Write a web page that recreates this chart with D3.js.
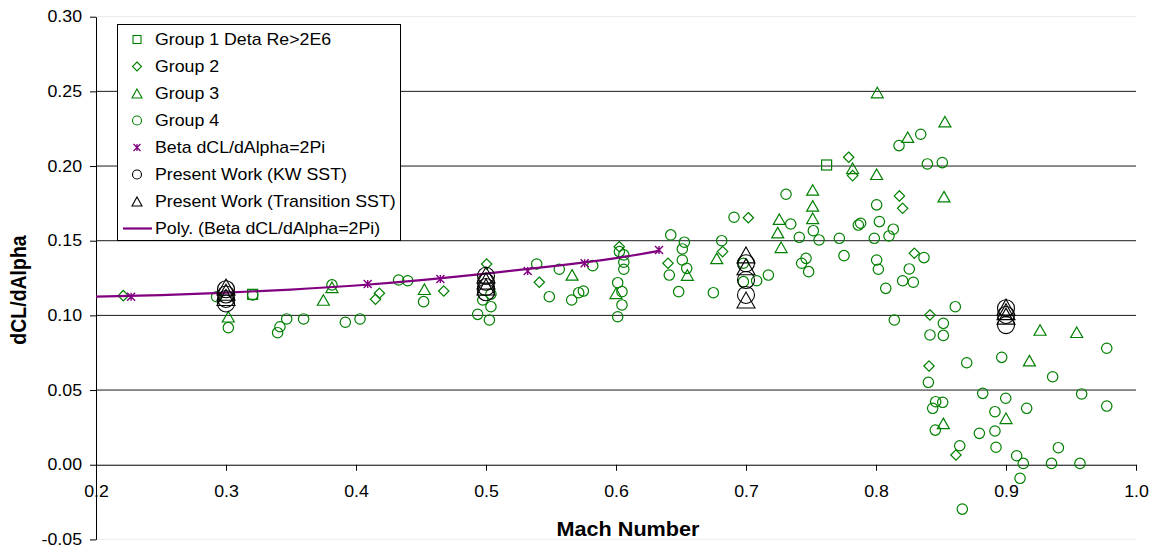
<!DOCTYPE html>
<html><head><meta charset="utf-8">
<script src="https://cdn.jsdelivr.net/npm/d3@7"></script>
<style>
html,body{margin:0;padding:0;background:#fff;}
svg{display:block;font-family:"Liberation Sans",Arial,sans-serif;}
</style></head>
<body>
<svg id="chart" width="1153" height="550"></svg>
<script>
// ---------- DATA ----------
const xTicks = [0.2,0.3,0.4,0.5,0.6,0.7,0.8,0.9,1.0];
const yTicks = [-0.05,0.00,0.05,0.10,0.15,0.20,0.25,0.30];
const gridValues = [0.05,0.10,0.15,0.20,0.25];

const group1 = [[0.3205,0.1141],[0.762,0.2007]];
const group2 = [[0.221,0.1132],[0.418,0.1148],[0.415,0.1108],[0.4675,0.1163],[0.5005,0.1344],[0.541,0.1222],
  [0.6025,0.146],[0.640,0.1349],[0.682,0.1427],[0.7018,0.1654],[0.779,0.2059],[0.782,0.1936],[0.818,0.180],
  [0.8205,0.1717],[0.8295,0.1416],[0.8415,0.1003],[0.8408,0.0661],[0.8615,0.0065]];
const group3 = [[0.3018,0.0991],[0.3749,0.1103],[0.3815,0.1188],[0.4526,0.1175],[0.5662,0.1271],[0.600,0.1148],
  [0.6549,0.127],[0.6775,0.1382],[0.7256,0.1644],[0.7244,0.1554],[0.727,0.1456],[0.7513,0.184],[0.7513,0.1733],
  [0.7513,0.165],[0.782,0.1985],[0.8005,0.1945],[0.801,0.2492],[0.853,0.2297],[0.8244,0.2193],[0.8523,0.1795],
  [0.9262,0.0902],[0.9544,0.0887],[0.918,0.0697],[0.8518,0.0277],[0.900,0.0311]];
const group4 = [[0.2928,0.1125],[0.3205,0.1137],[0.3018,0.0918],[0.3397,0.0884],[0.3415,0.0924],[0.3467,0.0976],
  [0.3597,0.0976],[0.3918,0.0954],[0.4031,0.0976],[0.3815,0.1204],[0.4328,0.1237],[0.4398,0.1232],[0.452,0.1092],
  [0.4975,0.1103],[0.5038,0.1143],[0.5038,0.1058],[0.4936,0.1007],[0.5026,0.0969],
  [0.539,0.1344],[0.5564,0.1309],[0.5487,0.1125],[0.5659,0.1103],[0.5713,0.1152],[0.5749,0.1163],[0.5821,0.1333],
  [0.6026,0.1427],[0.606,0.1405],[0.606,0.1356],[0.606,0.1309],[0.6013,0.1219],[0.6046,0.1159],[0.6046,0.107],[0.6013,0.0991],
  [0.6421,0.1539],[0.6526,0.149],[0.651,0.1445],[0.651,0.1371],[0.641,0.127],[0.6544,0.1315],[0.6482,0.1159],
  [0.6749,0.1152],[0.6813,0.15],[0.6908,0.1657],
  [0.698,0.1349],[0.698,0.1226],[0.7082,0.1232],[0.7172,0.127],
  [0.7308,0.1811],[0.7344,0.1612],[0.741,0.1523],[0.7462,0.1382],[0.7428,0.1349],[0.7482,0.1293],[0.7518,0.1567],
  [0.7562,0.1505],[0.7718,0.1516],[0.7754,0.14],[0.7864,0.1605],[0.7882,0.1617],[0.7987,0.1516],[0.8005,0.174],
  [0.8005,0.1371],[0.8026,0.1628],[0.8018,0.1309],
  [0.8177,0.2137],[0.8344,0.2213],[0.8395,0.2014],[0.851,0.2023],[0.8133,0.1577],[0.81,0.1532],[0.8369,0.1387],
  [0.8256,0.1311],[0.8205,0.1232],[0.8287,0.1222],[0.8075,0.1181],[0.861,0.1058],[0.8141,0.0969],[0.8518,0.0947],
  [0.8415,0.0869],[0.8518,0.0866],
  [0.8698,0.0683],[0.8967,0.0719],[0.9359,0.0589],[0.9775,0.078],[0.8403,0.0552],[0.8821,0.0478],[0.8998,0.0445],
  [0.9582,0.0474],[0.8459,0.0422],[0.8513,0.0418],[0.8436,0.0378],[0.8915,0.0355],[0.9159,0.0378],[0.9775,0.0393],
  [0.8456,0.0232],[0.8795,0.021],[0.8915,0.0226],[0.8644,0.0127],[0.8923,0.0117],[0.9403,0.0114],[0.9082,0.006],
  [0.9133,0.0009],[0.935,0.0009],[0.9569,0.0009],[0.9108,-0.0091],[0.8664,-0.0297]];
const betaPoints = [[0.227,0.1125],[0.409,0.121],[0.4649,0.1244],[0.5321,0.1297],[0.5759,0.1349],[0.6331,0.1438]];
const polyTrend = [[0.2,0.1125],[0.25,0.1135],[0.3,0.1152],[0.35,0.1173],[0.4,0.1200],[0.45,0.1236],
  [0.5,0.1280],[0.55,0.1328],[0.6,0.1384],[0.6331,0.1432]];
const kwSST = [[0.3,0.1175],[0.3,0.114],[0.3,0.111],[0.3,0.108],
  [0.5,0.1265],[0.5,0.1225],[0.5,0.119],[0.5,0.1155],
  [0.7,0.1349],[0.7,0.1237],[0.7,0.1137],
  [0.9,0.1048],[0.9,0.1003],[0.9,0.0935]];
const transSST = [[0.3,0.119],[0.3,0.1155],[0.3,0.112],
  [0.5,0.127],[0.5,0.123],[0.5,0.119],
  [0.7,0.1405],[0.7,0.1326],[0.7,0.1103],
  [0.9,0.1055],[0.9,0.1025],[0.9,0.0995]];
const legendLabels = ["Group 1 Deta Re>2E6","Group 2","Group 3","Group 4","Beta dCL/dAlpha=2Pi",
  "Present Work (KW SST)","Present Work (Transition SST)","Poly. (Beta dCL/dAlpha=2Pi)"];

// ---------- DRAW ----------
const GREEN = "#008000", PURPLE = "#800080";
const SX = 1.11; // horizontal text stretch of the original
const svg = d3.select("#chart");
const x = d3.scaleLinear().domain([0.2,1.0]).range([96,1136]);
const y = d3.scaleLinear().domain([-0.05,0.30]).range([539.4,16.7]);

// plot area faint border (top/bottom)
svg.append("line").attr("x1",x(0.2)).attr("x2",x(1.0)).attr("y1",y(0.30)).attr("y2",y(0.30)).attr("stroke","#e8e8e8");
svg.append("line").attr("x1",x(0.2)).attr("x2",x(1.0)).attr("y1",y(-0.05)).attr("y2",y(-0.05)).attr("stroke","#ececec");

// gridlines
svg.append("g").selectAll("line").data(gridValues).join("line")
  .attr("x1",x(0.2)).attr("x2",x(1.0)).attr("y1",d=>y(d)).attr("y2",d=>y(d))
  .attr("stroke","#1a1a1a").attr("stroke-width",1);

// y axis
const yAxis = svg.append("g").attr("transform",`translate(${x(0.2)},0)`)
  .call(d3.axisLeft(y).tickValues(yTicks).tickFormat(d=>d.toFixed(2)).tickSize(6).tickSizeOuter(0));
yAxis.select(".domain").attr("stroke","#000");
yAxis.selectAll("text").attr("x",-14/SX).attr("transform",`scale(${SX},1)`)
  .style("font-size","16px").style("font-family","Liberation Sans, Arial, sans-serif").attr("fill","#000");

// x axis at y=0
const xAxis = svg.append("g").attr("transform",`translate(0,${y(0)})`)
  .call(d3.axisBottom(x).tickValues(xTicks).tickFormat(d=>d.toFixed(1)).tickSize(6).tickSizeOuter(0));
xAxis.select(".domain").attr("stroke","#000");
xAxis.selectAll("text").attr("y",21).attr("transform",`scale(${SX},1)`)
  .attr("x",function(){return 0;})
  .style("font-size","16px").style("font-family","Liberation Sans, Arial, sans-serif").attr("fill","#000");
// keep x labels centred on the ticks despite scaling
xAxis.selectAll(".tick").each(function(){
  const t = d3.select(this);
  t.select("text").attr("transform",`scale(${SX},1)`);
});

// axis titles
svg.append("text").attr("transform",`translate(628,536) scale(${SX},1)`)
  .attr("text-anchor","middle").style("font-size","19.5px").style("font-weight","bold").text("Mach Number");
svg.append("text").attr("transform",`translate(26,290) scale(${SX},1) rotate(-90)`)
  .attr("text-anchor","middle").style("font-size","19.5px").style("font-weight","bold").text("dCL/dAlpha");

// marker path helpers
const triPath = (cx,cy,w,h)=>`M${cx},${cy-h/2}L${cx+w/2},${cy+h/2}L${cx-w/2},${cy+h/2}Z`;
const diaPath = (cx,cy,r)=>`M${cx},${cy-r}L${cx+r},${cy}L${cx},${cy+r}L${cx-r},${cy}Z`;
const starPath = (cx,cy,s)=>`M${cx-s},${cy-s}L${cx+s},${cy+s}M${cx+s},${cy-s}L${cx-s},${cy+s}M${cx},${cy-s}L${cx},${cy+s}`;

const gData = svg.append("g");
// Group 1 squares
gData.append("g").selectAll("rect").data(group1).join("rect")
  .attr("x",d=>x(d[0])-5).attr("y",d=>y(d[1])-5).attr("width",10).attr("height",10)
  .attr("fill","none").attr("stroke",GREEN).attr("stroke-width",1.2);
// Group 2 diamonds
gData.append("g").selectAll("path").data(group2).join("path")
  .attr("d",d=>diaPath(x(d[0]),y(d[1]),5.2))
  .attr("fill","none").attr("stroke",GREEN).attr("stroke-width",1.2);
// Group 3 triangles
gData.append("g").selectAll("path").data(group3).join("path")
  .attr("d",d=>triPath(x(d[0]),y(d[1]),12,10.5))
  .attr("fill","none").attr("stroke",GREEN).attr("stroke-width",1.2);
// Group 4 circles
gData.append("g").selectAll("circle").data(group4).join("circle")
  .attr("cx",d=>x(d[0])).attr("cy",d=>y(d[1])).attr("r",5.2)
  .attr("fill","none").attr("stroke",GREEN).attr("stroke-width",1.2);

// Poly trendline
svg.append("path").datum(polyTrend)
  .attr("d",d3.line().x(d=>x(d[0])).y(d=>y(d[1])).curve(d3.curveNatural))
  .attr("fill","none").attr("stroke",PURPLE).attr("stroke-width",2.2);
// Beta asterisks
svg.append("g").selectAll("path").data(betaPoints).join("path")
  .attr("d",d=>starPath(x(d[0]),y(d[1]),4))
  .attr("fill","none").attr("stroke",PURPLE).attr("stroke-width",1.4);

// Present work
svg.append("g").selectAll("circle").data(kwSST).join("circle")
  .attr("cx",d=>x(d[0])).attr("cy",d=>y(d[1])).attr("r",8.5)
  .attr("fill","none").attr("stroke","#000").attr("stroke-width",1.1);
svg.append("g").selectAll("path").data(transSST).join("path")
  .attr("d",d=>triPath(x(d[0]),y(d[1]),18,16))
  .attr("fill","none").attr("stroke","#000").attr("stroke-width",1.1);

// ---------- LEGEND ----------
const lg = svg.append("g");
lg.append("rect").attr("x",117.5).attr("y",24.5).attr("width",283).attr("height",216)
  .attr("fill","#fff").attr("stroke","#000").attr("stroke-width",1);
const ly = i => 39.5 + i*27;
const sx = 137;
const legendDraw = [
  g=>g.append("rect").attr("x",sx-4).attr("y",ly(0)-4).attr("width",8).attr("height",8).attr("fill","none").attr("stroke",GREEN).attr("stroke-width",1.1),
  g=>g.append("path").attr("d",diaPath(sx,ly(1),4.5)).attr("fill","none").attr("stroke",GREEN).attr("stroke-width",1.1),
  g=>g.append("path").attr("d",triPath(sx,ly(2),10,9)).attr("fill","none").attr("stroke",GREEN).attr("stroke-width",1.1),
  g=>g.append("circle").attr("cx",sx).attr("cy",ly(3)).attr("r",4.5).attr("fill","none").attr("stroke",GREEN).attr("stroke-width",1.1),
  g=>g.append("path").attr("d",starPath(sx,ly(4),3.5)).attr("fill","none").attr("stroke",PURPLE).attr("stroke-width",1.3),
  g=>g.append("circle").attr("cx",sx).attr("cy",ly(5)).attr("r",4.5).attr("fill","none").attr("stroke","#000").attr("stroke-width",1.1),
  g=>g.append("path").attr("d",triPath(sx,ly(6),10,9)).attr("fill","none").attr("stroke","#000").attr("stroke-width",1.1),
  g=>g.append("line").attr("x1",123).attr("x2",152).attr("y1",ly(7)).attr("y2",ly(7)).attr("stroke",PURPLE).attr("stroke-width",2.2)
];
legendLabels.forEach((lab,i)=>{
  legendDraw[i](lg);
  lg.append("text").attr("transform",`translate(155,${ly(i)}) scale(${SX},1)`)
    .attr("dy","0.36em").style("font-size","16px").attr("fill","#000").text(lab);
});
</script>
</body></html>
